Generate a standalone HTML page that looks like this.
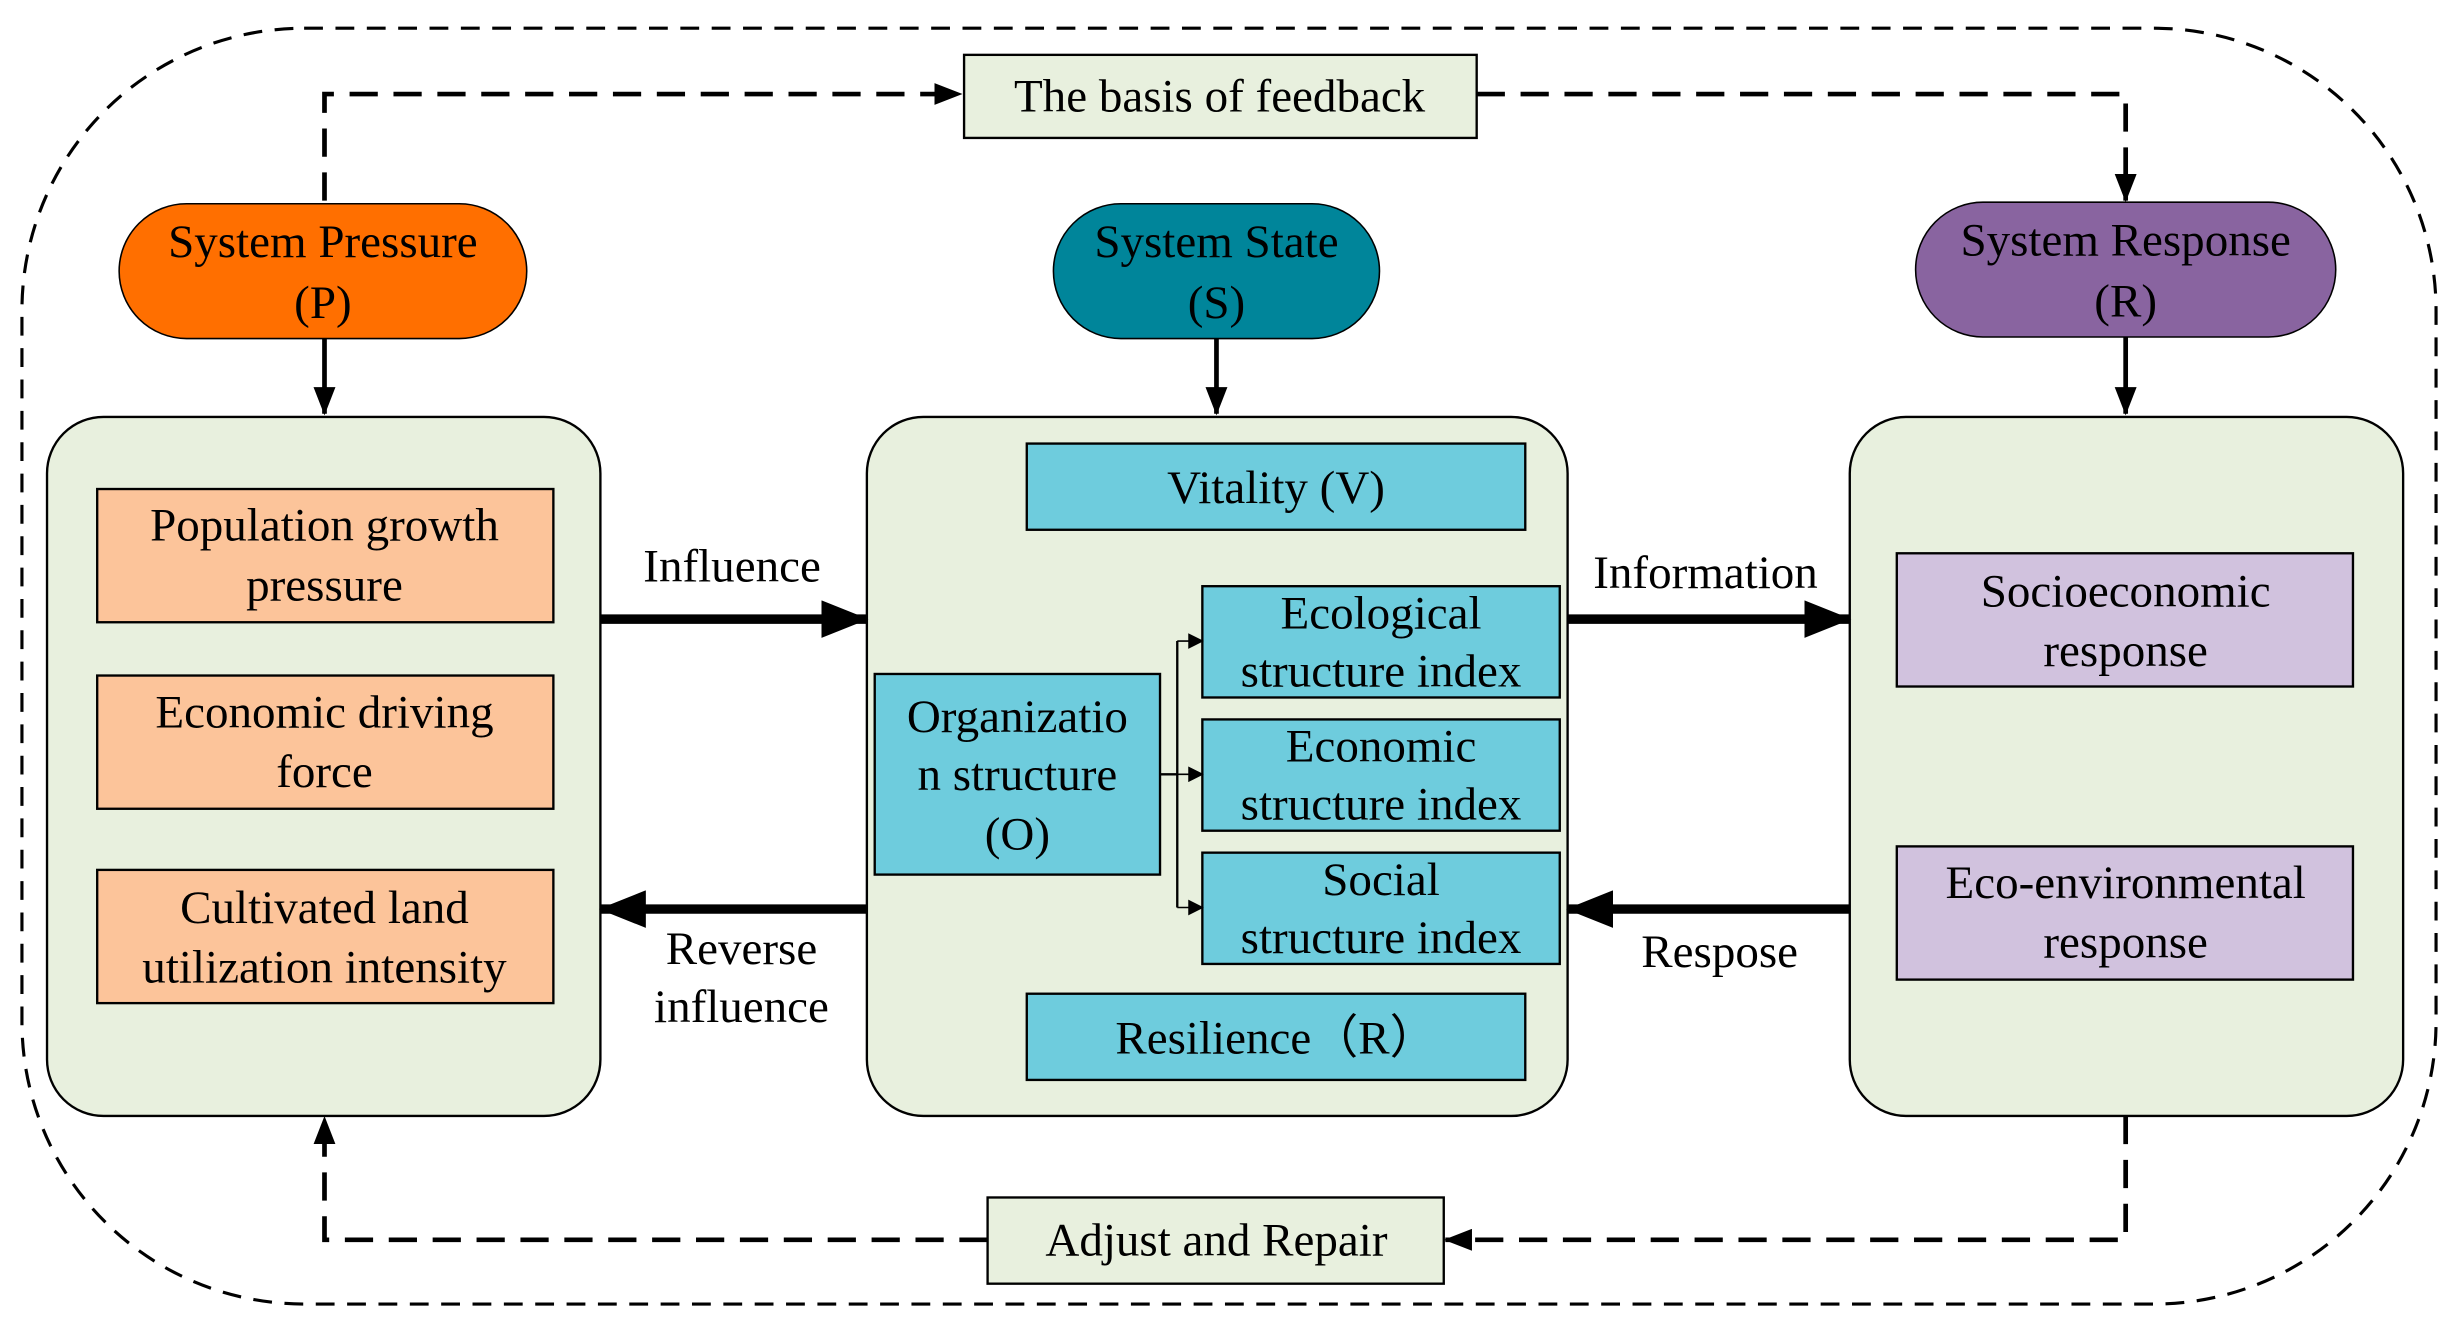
<!DOCTYPE html>
<html><head><meta charset="utf-8"><style>html,body{margin:0;padding:0;background:#fff}svg{display:block}</style></head><body>
<svg width="2458" height="1326" viewBox="0 0 1568 846" preserveAspectRatio="none" xmlns="http://www.w3.org/2000/svg" font-family="Liberation Serif, serif" font-size="30" text-anchor="middle">
<defs>
<marker id="a" markerWidth="10" markerHeight="10" refX="9" refY="5" orient="auto" markerUnits="userSpaceOnUse" viewBox="0 0 10 10"><path d="M0,0L10,5L0,10z" fill="#000"/></marker>
<marker id="b" markerWidth="30" markerHeight="24" refX="29" refY="12" orient="auto" markerUnits="userSpaceOnUse" viewBox="0 0 30 24"><path d="M0,0L30,12L0,24z" fill="#000"/></marker>
<marker id="c" markerWidth="18" markerHeight="14" refX="17" refY="7" orient="auto" markerUnits="userSpaceOnUse" viewBox="0 0 18 14"><path d="M0,0L18,7L0,14z" fill="#000"/></marker>
</defs>
<rect x="14" y="18" width="1540" height="814" rx="180" fill="none" stroke="#000" stroke-width="2" stroke-dasharray="12,8"/>
<rect x="615" y="35" width="327" height="53" fill="#E8F0DE" stroke="#000" stroke-width="1.5"/>
<text x="778" y="71">The basis of feedback</text>
<path d="M207,128V60H613" fill="none" stroke="#000" stroke-width="3" stroke-dasharray="18,10" marker-end="url(#c)"/>
<path d="M942,60H1356V128" fill="none" stroke="#000" stroke-width="3" stroke-dasharray="18,10" marker-end="url(#c)"/>
<rect x="630" y="764" width="291" height="55" fill="#E8F0DE" stroke="#000" stroke-width="1.5"/>
<text x="776" y="801">Adjust and Repair</text>
<path d="M1356,712V791H922" fill="none" stroke="#000" stroke-width="3" stroke-dasharray="18,10" marker-end="url(#c)"/>
<path d="M630,791H207V713" fill="none" stroke="#000" stroke-width="3" stroke-dasharray="18,10" marker-end="url(#c)"/>
<rect x="76" y="130" width="260" height="86" rx="43" fill="#FF6F00" stroke="#000"/>
<text x="206" y="164">System Pressure</text><text x="206" y="203">(P)</text>
<rect x="672" y="130" width="208" height="86" rx="43" fill="#00859A" stroke="#000"/>
<text x="776" y="164">System State</text><text x="776" y="203">(S)</text>
<rect x="1222" y="129" width="268" height="86" rx="43" fill="#8964A0" stroke="#000"/>
<text x="1356" y="163">System Response</text><text x="1356" y="202">(R)</text>
<path d="M207,216V264" stroke="#000" stroke-width="3" marker-end="url(#c)"/>
<path d="M776,216V264" stroke="#000" stroke-width="3" marker-end="url(#c)"/>
<path d="M1356,215V264" stroke="#000" stroke-width="3" marker-end="url(#c)"/>
<rect x="30" y="266" width="353" height="446" rx="36" fill="#E8F0DE" stroke="#000" stroke-width="1.5"/>
<rect x="553" y="266" width="447" height="446" rx="36" fill="#E8F0DE" stroke="#000" stroke-width="1.5"/>
<rect x="1180" y="266" width="353" height="446" rx="36" fill="#E8F0DE" stroke="#000" stroke-width="1.5"/>
<g fill="#FCC49A" stroke="#000" stroke-width="1.5">
<rect x="62" y="312" width="291" height="85"/><rect x="62" y="431" width="291" height="85"/><rect x="62" y="555" width="291" height="85"/></g>
<text x="207" y="345">Population growth</text><text x="207" y="383">pressure</text>
<text x="207" y="464">Economic driving</text><text x="207" y="502">force</text>
<text x="207" y="589">Cultivated land</text><text x="207" y="627">utilization intensity</text>
<g fill="#6ECCDD" stroke="#000" stroke-width="1.5">
<rect x="655" y="283" width="318" height="55"/><rect x="558" y="430" width="182" height="128"/>
<rect x="767" y="374" width="228" height="71"/><rect x="767" y="459" width="228" height="71"/><rect x="767" y="544" width="228" height="71"/>
<rect x="655" y="634" width="318" height="55"/></g>
<text x="814" y="321">Vitality (V)</text>
<text x="649" y="467">Organizatio</text><text x="649" y="504">n structure</text><text x="649" y="542">(O)</text>
<text x="881" y="401">Ecological</text><text x="881" y="438">structure index</text>
<text x="881" y="486">Economic</text><text x="881" y="523">structure index</text>
<text x="881" y="571">Social</text><text x="881" y="608">structure index</text>
<text x="814" y="672">Resilience（R）</text>
<path d="M740,494H751M751,409V579" fill="none" stroke="#000" stroke-width="1.5"/>
<path d="M751,409H767" stroke="#000" marker-end="url(#a)"/><path d="M751,494H767" stroke="#000" marker-end="url(#a)"/><path d="M751,579H767" stroke="#000" marker-end="url(#a)"/>
<g fill="#D1C2DE" stroke="#000" stroke-width="1.5">
<rect x="1210" y="353" width="291" height="85"/><rect x="1210" y="540" width="291" height="85"/></g>
<text x="1356" y="387">Socioeconomic</text><text x="1356" y="425">response</text>
<text x="1356" y="573">Eco-environmental</text><text x="1356" y="611">response</text>
<path d="M383,395H553" stroke="#000" stroke-width="6" marker-end="url(#b)"/>
<path d="M553,580H383" stroke="#000" stroke-width="6" marker-end="url(#b)"/>
<path d="M1000,395H1180" stroke="#000" stroke-width="6" marker-end="url(#b)"/>
<path d="M1180,580H1000" stroke="#000" stroke-width="6" marker-end="url(#b)"/>
<text x="467" y="371">Influence</text>
<text x="473" y="615">Reverse</text><text x="473" y="652">influence</text>
<text x="1088" y="375">Information</text>
<text x="1097" y="617">Respose</text>
</svg>
</body></html>
